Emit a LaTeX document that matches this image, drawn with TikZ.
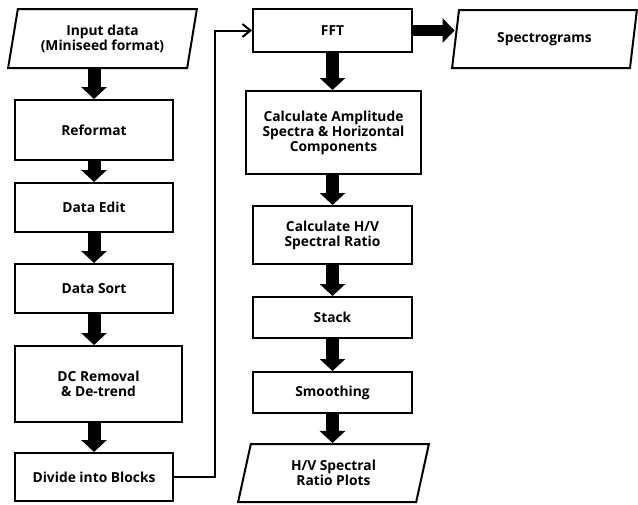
\documentclass[tikz,border=0pt]{standalone}
\usepackage{fontspec}
\setmainfont{Open Sans}
\usetikzlibrary{shapes.geometric, arrows.meta}

\begin{document}
\begin{tikzpicture}[x=1pt, y=-1pt,
            box/.style={draw, line width=2pt, minimum width=158pt,
                        align=center, inner sep=2pt,
                        font=\fontsize{13.8}{15}\selectfont\bfseries},
            io/.style={box, trapezium, trapezium stretches=true,
                       trapezium left angle=77, trapezium right angle=103},
            arr/.style={line width=13pt, -{Triangle[width=25pt, length=12pt]}},
            link/.style={line width=2pt, -{Straight Barb[length=8pt, width=13pt]}}
        ]
        \useasboundingbox (0,0) rectangle (638,504);

        % Left column: data preparation
        \node[io, minimum width=189pt, minimum height=59pt] (input) at (102.5, 38.5)
            {Input data\\(Miniseed format)};
        \node[box, minimum height=60pt] (reformat) at (94, 130) {Reformat};
        \node[box, minimum height=49pt] (edit) at (94, 207.5) {Data Edit};
        \node[box, minimum height=49pt] (sort) at (94, 288.5) {Data Sort};
        \node[box, minimum width=167pt, minimum height=76pt] (dc) at (98.5, 384)
            {DC Removal\\ \& De-trend};
        \node[box, minimum height=48pt] (divide) at (94, 477) {Divide into Blocks};

        \draw[arr] (input.south -| reformat) -- (reformat.north);
        \draw[arr] (reformat) -- (edit);
        \draw[arr] (edit) -- (sort);
        \draw[arr] (sort.south) -- (sort.south |- dc.north);
        \draw[arr] (divide.north |- dc.south) -- (divide.north);

        % Right column: spectral processing
        \node[box, minimum width=159pt, minimum height=43pt] (fft) at (332.5, 30.5) {FFT};
        \node[io, minimum width=185pt, minimum height=58pt] (spec) at (544.5, 39) {Spectrograms};
        \node[box, minimum width=175pt, minimum height=83pt] (amp) at (333.5, 132.5)
            {Calculate Amplitude\\Spectra \& Horizontal\\Components};
        \node[box, minimum width=159pt, minimum height=58pt] (hv) at (332.5, 235)
            {Calculate H/V\\Spectral Ratio};
        \node[box, minimum width=159pt, minimum height=41pt] (stack) at (332.5, 317.5) {Stack};
        \node[box, minimum width=159pt, minimum height=41pt] (smooth) at (332.5, 392.5) {Smoothing};
        \node[io, minimum width=191pt, minimum height=58pt] (plots) at (333.5, 473)
            {H/V Spectral\\Ratio Plots};

        \draw[link] (divide.east) -- ++(41,0) |- (fft.west);
        \draw[arr, line width=11pt, -{Triangle[width=24pt, length=12pt]}]
            (fft.east) -- (fft.east -| spec.west);
        \draw[arr] (fft.south) -- (fft.south |- amp.north);
        \draw[arr] (hv.north |- amp.south) -- (hv.north);
        \draw[arr] (hv) -- (stack);
        \draw[arr] (stack) -- (smooth);
        \draw[arr] (smooth.south) -- (smooth.south |- plots.north);
\end{tikzpicture}
\end{document}
